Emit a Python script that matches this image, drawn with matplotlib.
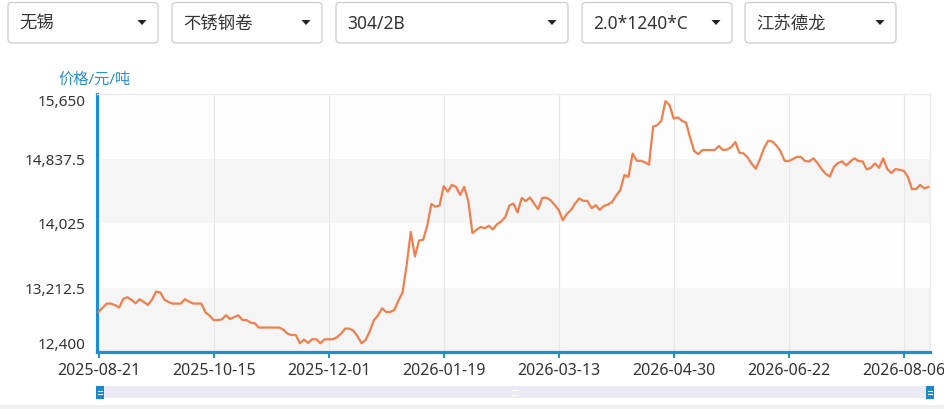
import matplotlib
matplotlib.use("Agg")
import matplotlib.pyplot as plt
from matplotlib.patches import FancyBboxPatch, Polygon, Rectangle

plt.rcParams['font.family'] = ['Noto Sans', 'Noto Sans CJK SC', 'DejaVu Sans']

# ---- data ----
filters = ["无锡", "不锈钢卷", "304/2B", "2.0*1240*C", "江苏德龙"]
y_title = "价格/元/吨"
x_tick_labels = ["2025-08-21", "2025-10-15", "2025-12-01", "2026-01-19",
                 "2026-03-13", "2026-04-30", "2026-06-22", "2026-08-06"]
label_step = 28
y_ticks = [12400, 13212.5, 14025, 14837.5, 15650]
prices = [
    12904, 12960, 13010, 13010, 12990, 12960, 13070, 13090, 13056, 13014,
    13065, 13030, 12993, 13060, 13162, 13150, 13060, 13030, 13010, 13010,
    13010, 13065, 13035, 13010, 13010, 13010, 12900, 12858, 12803, 12803,
    12810, 12863, 12815, 12840, 12862, 12803, 12803, 12770, 12762, 12708,
    12708, 12708, 12708, 12708, 12708, 12680, 12630, 12614, 12614, 12510,
    12555, 12515, 12560, 12560, 12510, 12560, 12560, 12560, 12585, 12630,
    12695, 12695, 12670, 12600, 12510, 12551, 12660, 12800, 12860, 12951,
    12904, 12904, 12930, 13050, 13150, 13500, 13913, 13603, 13805, 13813,
    13990, 14265, 14230, 14245, 14490, 14420, 14506, 14480, 14380, 14480,
    14300, 13897, 13940, 13975, 13960, 13990, 13945, 14010, 14045, 14100,
    14245, 14270, 14158, 14340, 14300, 14347, 14270, 14200, 14340, 14345,
    14313, 14255, 14190, 14060, 14140, 14190, 14270, 14335, 14304, 14304,
    14212, 14250, 14191, 14240, 14258, 14290, 14370, 14440, 14630, 14607,
    14900, 14810, 14809, 14790, 14760, 15240, 15258, 15313, 15560, 15510,
    15340, 15355, 15313, 15290, 15100, 14930, 14893, 14944, 14944, 14944,
    14944, 14995, 14944, 14950, 14980, 15045, 14910, 14902, 14850, 14770,
    14710, 14830, 14970, 15061, 15052, 15000, 14930, 14809, 14805, 14830,
    14859, 14855, 14805, 14801, 14840, 14780, 14705, 14645, 14610, 14730,
    14780, 14801, 14750, 14800, 14840, 14805, 14801, 14700, 14720, 14775,
    14720, 14840, 14704, 14655, 14704, 14695, 14683, 14610, 14452, 14452,
    14506, 14460, 14480,
]

BLUE = "#1b8fd2"
LINE = "#ef7f4c"
TXT = "#333333"

W, H = 945, 410
fig = plt.figure(figsize=(W / 100, H / 100), dpi=100)
fig.patch.set_facecolor("white")

# main axes (pixel box: x 97..930, y 95..353)
L, R, T, B = 97, 930, 95, 353
ax = fig.add_axes([L / W, 1 - B / H, (R - L) / W, (B - T) / H])
ax.set_facecolor("#fdfdfd")

n = len(prices)
xs = list(range(n))
ax.plot(xs, prices, color=LINE, lw=1.6, solid_joinstyle="round", zorder=3)

ax.set_ylim(y_ticks[0], y_ticks[-1])
ax.set_xlim(-0.4, 202.4)

# alternating horizontal bands
for k in range(len(y_ticks) - 1):
    col = "#f5f5f5" if k % 2 == 0 else "#fdfdfd"
    ax.axhspan(y_ticks[k], y_ticks[k + 1], color=col, zorder=0, lw=0)

tick_pos = [i * label_step for i in range(len(x_tick_labels))]
for tp in tick_pos[1:]:
    ax.axvline(tp, color="#e6e6e6", lw=0.8, zorder=1)

ax.set_xticks(tick_pos)
ax.set_xticklabels(x_tick_labels, fontsize=11.5, color=TXT)
ax.tick_params(axis="x", direction="out", length=4, width=1.4, color=BLUE, pad=3)


def fmt(v):
    s = f"{v:,.1f}"
    return s[:-2] if s.endswith(".0") else s


ax.set_yticks(y_ticks)
ax.set_yticklabels([fmt(v) for v in y_ticks], fontsize=11, color=TXT)
ax.tick_params(axis="y", length=0, pad=8)
ylabels = ax.get_yticklabels()
ylabels[0].set_verticalalignment("bottom")
ylabels[-1].set_verticalalignment("top")

for s in ("left", "bottom"):
    ax.spines[s].set_color(BLUE)
    ax.spines[s].set_linewidth(2.3)
for s in ("top", "right"):
    ax.spines[s].set_color("#ececec")
    ax.spines[s].set_linewidth(1)

# overlay in pixel coordinates for UI chrome
ov = fig.add_axes([0, 0, 1, 1], zorder=5)
ov.set_xlim(0, W)
ov.set_ylim(H, 0)
ov.set_axis_off()
ov.patch.set_alpha(0)

boxes = [(8, 158), (172, 322), (336, 568), (582, 732), (745, 896)]
for (x0, x1), txt in zip(boxes, filters):
    ov.add_patch(FancyBboxPatch((x0, 3.5), x1 - x0, 40.5,
                                boxstyle="round,pad=0,rounding_size=4",
                                fc="white", ec="#cccccc", lw=0.9))
    ov.text(x0 + 11, 24, txt, fontsize=12.5, color=TXT, va="center", ha="left")
    cx = x1 - 16
    ov.add_patch(Polygon([(cx - 4.5, 21), (cx + 4.5, 21), (cx, 26)],
                         closed=True, fc="#222222", ec="none"))

ov.text(58, 80, y_title, fontsize=11, color="#2a8fcf", va="center", ha="left")

# bottom data-zoom slider
ov.add_patch(Rectangle((97, 387), 833, 12, fc="#ebe9f6", ec="none"))
for hx in (96, 926):
    ov.add_patch(Rectangle((hx, 386.5), 8, 13, fc="#1a87c9", ec="none"))
    ov.plot([hx + 2, hx + 6], [391.5, 391.5], color="white", lw=0.8)
    ov.plot([hx + 2, hx + 6], [394.5, 394.5], color="white", lw=0.8)
ov.plot([512, 518], [391, 391], color="white", lw=0.8)
ov.plot([512, 518], [396, 396], color="white", lw=0.8)
ov.add_patch(Rectangle((0, 406), W, 4, fc="#f0f0f0", ec="none"))

fig.savefig("out.png", dpi=100)
